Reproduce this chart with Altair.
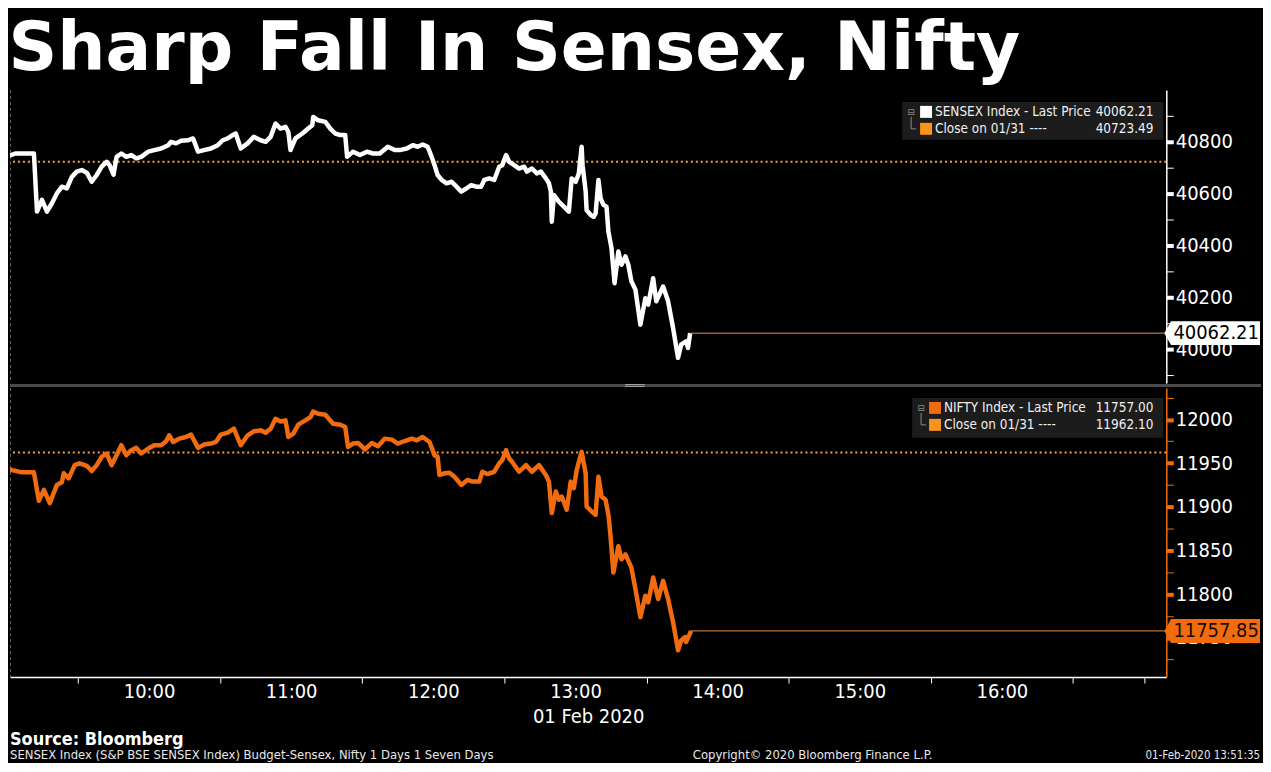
import altair as alt
import pandas as pd

# ------------------------------------------------------------------ data
title_text = "Sharp Fall In Sensex, Nifty"
source_text = "Source: Bloomberg"
footer_left = "SENSEX Index (S&P BSE SENSEX Index) Budget-Sensex, Nifty 1 Days 1 Seven Days"
footer_mid = "Copyright\u00a9 2020 Bloomberg Finance L.P."
footer_right = "01-Feb-2020 13:51:35"
date_label = "01 Feb 2020"

# minutes after 08:58 on 01 Feb 2020
sensex_minutes = [
    0.0, 5.5, 13.4, 14.7, 16.8, 18.9, 21.0, 23.1, 25.2, 27.3,
    29.4, 31.5, 33.6, 35.7, 37.8, 39.9, 42.0, 44.1, 45.3, 47.0,
    48.3, 50.3, 52.4, 54.5, 56.6, 58.7, 61.7, 64.2, 67.1, 70.1,
    71.3, 73.4, 75.5, 78.5, 80.6, 82.7, 85.2, 88.1, 91.0, 93.1,
    95.2, 97.3, 98.6, 100.7, 103.6, 106.2, 109.1, 111.2, 113.3, 115.4,
    117.5, 119.6, 120.8, 121.7, 123.8, 126.7, 129.2, 130.9, 131.3, 133.4,
    136.4, 138.5, 140.6, 142.7, 144.8, 145.6, 148.1, 151.0, 154.0, 156.5,
    159.4, 162.8, 165.7, 167.8, 170.8, 173.3, 175.4, 177.5, 179.6, 181.3,
    182.5, 183.8, 185.5, 187.6, 189.7, 191.8, 193.8, 195.9, 198.0, 200.1,
    202.2, 203.5, 205.6, 207.7, 209.8, 211.1, 212.7, 214.0, 216.1, 218.2,
    220.3, 221.5, 223.6, 225.7, 227.4, 229.5, 230.8, 231.6, 232.0, 232.9,
    235.0, 237.1, 239.2, 240.4, 242.1, 243.4, 244.6, 245.0, 246.3, 246.7,
    248.4, 249.7, 250.5, 251.7, 252.6, 253.8, 255.1, 255.9, 257.2, 258.5,
    260.1, 261.4, 263.1, 264.3, 265.6, 267.3, 269.4, 271.5, 272.7, 274.8,
    276.1, 279.0, 281.1, 283.2, 285.3, 286.6, 288.7, 289.5, 290.4,
]
sensex_values = [
    40736, 40755, 40755, 40531, 40576, 40531, 40563, 40601, 40627, 40620,
    40665, 40685, 40691, 40681, 40646, 40672, 40704, 40723, 40711, 40673,
    40742, 40755, 40742, 40749, 40736, 40742, 40762, 40768, 40774, 40787,
    40800, 40794, 40804, 40806, 40813, 40762, 40768, 40774, 40787, 40806,
    40813, 40826, 40832, 40774, 40794, 40819, 40806, 40800, 40819, 40870,
    40851, 40858, 40838, 40768, 40813, 40832, 40851, 40864, 40896, 40883,
    40877, 40851, 40832, 40826, 40826, 40742, 40762, 40749, 40762, 40755,
    40755, 40781, 40768, 40768, 40774, 40787, 40781, 40790, 40781, 40742,
    40710, 40672, 40653, 40640, 40646, 40627, 40608, 40620, 40633, 40627,
    40627, 40653, 40659, 40653, 40704, 40710, 40749, 40723, 40710, 40697,
    40704, 40685, 40697, 40678, 40685, 40659, 40640, 40608, 40492, 40595,
    40569, 40550, 40531, 40659, 40646, 40678, 40781, 40710, 40608, 40537,
    40518, 40511, 40524, 40653, 40582, 40557, 40550, 40454, 40390, 40255,
    40377, 40326, 40358, 40326, 40262, 40230, 40095, 40197, 40172, 40274,
    40185, 40242, 40185, 40082, 39967, 40018, 40031, 40005, 40062.21,
]

nifty_minutes = [
    0.0, 4.2, 8.4, 13.4, 15.5, 17.6, 20.1, 23.1, 25.2, 26.0,
    28.1, 30.6, 32.7, 35.7, 37.8, 39.9, 42.0, 44.1, 46.2, 48.3,
    50.3, 52.4, 54.5, 56.6, 58.7, 61.7, 64.2, 67.1, 69.2, 70.5,
    72.2, 74.7, 77.6, 79.7, 82.7, 85.2, 88.1, 90.2, 92.3, 95.2,
    97.8, 100.7, 103.6, 106.2, 109.1, 111.2, 113.3, 115.4, 117.5, 119.6,
    120.8, 122.9, 125.0, 128.0, 130.1, 131.3, 133.4, 136.4, 139.7, 142.7,
    144.8, 146.0, 148.1, 150.2, 153.1, 156.1, 158.6, 161.5, 164.5, 167.0,
    169.9, 172.9, 175.0, 177.5, 180.4, 182.5, 183.8, 184.6, 186.7, 188.8,
    190.9, 193.8, 196.4, 198.5, 201.4, 202.7, 204.8, 207.7, 209.8, 211.1,
    212.7, 214.0, 215.2, 218.2, 221.1, 223.6, 226.6, 229.5, 230.8, 232.0,
    233.7, 235.0, 236.2, 238.3, 240.0, 241.3, 242.5, 244.6, 246.3, 246.7,
    248.8, 250.5, 251.7, 253.0, 254.7, 256.0, 256.8, 258.0, 260.1, 261.4,
    263.1, 265.6, 267.3, 269.4, 271.5, 272.7, 274.8, 276.9, 279.0, 281.1,
    283.2, 285.3, 286.6, 288.3, 288.7, 290.8,
]
nifty_values = [
    11945.8, 11942.0, 11939.4, 11939.4, 11906.8, 11919.3, 11904.2, 11925.0, 11928.0, 11938.3,
    11932.6, 11947.7, 11949.7, 11946.9, 11940.9, 11947.7, 11957.2, 11961.0, 11947.7, 11959.1,
    11970.5, 11959.1, 11964.8, 11967.4, 11961.0, 11966.7, 11970.5, 11970.5, 11975.0, 11981.8,
    11974.2, 11978.0, 11979.9, 11982.6, 11967.4, 11971.2, 11972.4, 11974.2, 11982.6, 11984.9,
    11989.4, 11970.5, 11981.8, 11986.4, 11987.5, 11984.9, 11989.4, 12000.8, 11997.7, 11998.9,
    11979.9, 11983.7, 11994.0, 11998.9, 12002.6, 12009.1, 12006.5, 12005.3, 11995.1, 11994.0,
    11991.3, 11968.5, 11972.4, 11973.1, 11965.6, 11973.1, 11969.3, 11978.0, 11976.9, 11972.4,
    11975.3, 11978.0, 11976.1, 11979.9, 11974.2, 11959.1, 11957.2, 11936.4, 11938.3, 11939.0,
    11934.4, 11925.0, 11930.7, 11928.8, 11928.8, 11940.1, 11937.5, 11940.1, 11949.7, 11953.4,
    11964.8, 11955.3, 11951.5, 11940.1, 11947.7, 11940.1, 11947.7, 11936.4, 11928.8, 11892.8,
    11917.4, 11908.0, 11911.7, 11896.6, 11928.8, 11921.2, 11942.0, 11962.9, 11938.3, 11900.3,
    11894.7, 11890.9, 11934.4, 11911.7, 11908.0, 11889.0, 11866.3, 11824.6, 11854.9, 11839.8,
    11845.5, 11830.3, 11805.7, 11773.6, 11798.1, 11790.6, 11819.0, 11794.3, 11815.2, 11794.3,
    11767.8, 11735.6, 11746.9, 11750.8, 11745.1, 11757.85,
]

sensex_legend_names = ["SENSEX Index - Last Price", "Close on 01/31 ----"]
sensex_legend_numbers = ["40062.21", "40723.49"]
nifty_legend_names = ["NIFTY Index - Last Price", "Close on 01/31 ----"]
nifty_legend_numbers = ["11757.00", "11962.10"]

sensex_close = 40723.49
sensex_tag = 40062.21
nifty_close = 11962.10
nifty_tag = 11757.85

# ------------------------------------------------------------------ frames
BASE = pd.Timestamp("2020-02-01 08:58:00")


def frame(minutes, values):
    return pd.DataFrame({"time": BASE + pd.to_timedelta(minutes, unit="m"),
                         "value": values})


sensex_df = frame(sensex_minutes, sensex_values)
nifty_df = frame(nifty_minutes, nifty_values)
sensex_last_df = sensex_df.tail(1).copy()
sensex_last_df["value"] = sensex_tag
nifty_last_df = nifty_df.tail(1).copy()
nifty_last_df["value"] = nifty_tag
one = pd.DataFrame({"k": [0]})

# ------------------------------------------------------------------ style
W = 1160
H_TOP = 294
H_BOT = 290
FONT = "DejaVu Sans Condensed, DejaVu Sans, sans-serif"
WHITE = "#ffffff"
ORANGE = "#f26c0f"
AMBER = "#f7941d"
DOT = "#f5a340"
LASTLINE = "#f08a3c"
BOX = "#1c1c1c"
TAG = "M-1,0L-0.86,-0.25L1,-0.25L1,0.25L-0.86,0.25Z"


def dt(h, m, s=0):
    return alt.DateTime(year=2020, month=2, date=1, hours=h, minutes=m, seconds=s)


x_scale = alt.Scale(domain=[dt(9, 1, 18), dt(17, 9, 24)])
tick_times = [dt(h, m) for h in range(9, 18) for m in (0, 30)
              if (9, 30) <= (h, m) <= (17, 0)]

x_axis_bottom = alt.Axis(
    values=tick_times,
    labelExpr="minutes(datum.value) == 0 && hours(datum.value) < 17 ? timeFormat(datum.value, '%H:%M') : ''",
    tickOpacity={"condition": {"test": "minutes(datum.value) == 30 || hours(datum.value) == 17", "value": 1}, "value": 0},
    tickSize=6, tickColor=WHITE, domainColor=WHITE, domainWidth=1.5,
    labelColor=WHITE, labelFont=FONT, labelFontSize=20, labelPadding=-2,
    labelOverlap=False, labelFlush=False,
    title=date_label, titleFont=FONT, titleFontSize=20, titleFontWeight="normal",
    titleColor=WHITE, titlePadding=6, grid=False,
)


def y_axis(values, major, color):
    return alt.Axis(
        orient="right", values=values, format="d",
        labelExpr=f"datum.value % {major} == 0 ? datum.label : ''",
        tickSize=7,
        tickWidth={"condition": {"test": f"datum.value % {major} == 0", "value": 4}, "value": 1},
        tickColor=color, domainColor=color, domainWidth=1.5,
        labelColor=WHITE, labelFont=FONT, labelFontSize=20, labelPadding=2,
        labelOverlap=False, grid=False, title=None,
    )


def legend(names, numbers, colors, box, rows_y, sq_x, text_x, num_x, icon_x):
    layers = [alt.Chart(one).mark_rect(color=BOX).encode(
        x=alt.value(box[0]), x2=alt.value(box[1]), y=alt.value(box[2]), y2=alt.value(box[3]))]
    layers.append(alt.Chart(one).mark_text(text="\u229f", font="DejaVu Sans", fontSize=9,
                                           color="#8a8a8a", align="center", baseline="middle")
                  .encode(x=alt.value(icon_x), y=alt.value(rows_y[0])))
    layers.append(alt.Chart(one).mark_rule(color="#8a8a8a", strokeWidth=1).encode(
        x=alt.value(icon_x), y=alt.value(rows_y[0] + 5), y2=alt.value(rows_y[1])))
    layers.append(alt.Chart(one).mark_rule(color="#8a8a8a", strokeWidth=1).encode(
        x=alt.value(icon_x), x2=alt.value(icon_x + 5), y=alt.value(rows_y[1])))
    for name, num, col, ry in zip(names, numbers, colors, rows_y):
        layers.append(alt.Chart(one).mark_rect(color=col).encode(
            x=alt.value(sq_x), x2=alt.value(sq_x + 12), y=alt.value(ry - 6), y2=alt.value(ry + 6)))
        layers.append(alt.Chart(one).mark_text(text=name, font=FONT, fontSize=13.5, color="#f0f0f0",
                                               align="left", baseline="middle")
                      .encode(x=alt.value(text_x), y=alt.value(ry)))
        layers.append(alt.Chart(one).mark_text(text=num, font=FONT, fontSize=13.5, color="#f0f0f0",
                                               align="right", baseline="middle")
                      .encode(x=alt.value(num_x), y=alt.value(ry)))
    return layers


def panel(df, last_df, close, tag_value, domain, values, major, line_color, axis_color,
          tag_fill, tag_text_color, legend_layers, height, extra_layers, x_axis):
    X = alt.X("time:T", scale=x_scale, axis=x_axis)
    Y = alt.Y("value:Q", scale=alt.Scale(domain=domain, nice=False, zero=False),
              axis=y_axis(values, major, axis_color))
    left_edge = alt.Chart(one).mark_rule(color="#6a6a6a", strokeDash=[3, 3], strokeWidth=1).encode(
        x=alt.value(0.5), y=alt.value(0), y2=alt.value(height))
    close_rule = alt.Chart(pd.DataFrame({"value": [close]})).mark_rule(
        color=DOT, strokeDash=[2, 3], strokeWidth=2).encode(y=Y)
    line = alt.Chart(df).mark_line(color=line_color, strokeWidth=4.5, strokeJoin="round",
                                   clip=True).encode(x=X, y=Y)
    last_rule = alt.Chart(last_df).mark_rule(color=LASTLINE, strokeWidth=1).encode(
        x=X, x2=alt.value(W), y=Y)
    tag_df = pd.DataFrame({"value": [tag_value], "label": [f"{tag_value:.2f}"]})
    tag = alt.Chart(tag_df).mark_point(shape=TAG, filled=True, size=96 * 96, color=tag_fill,
                                       opacity=1, strokeWidth=0).encode(x=alt.value(1206), y=Y)
    tag_txt = alt.Chart(tag_df).mark_text(font=FONT, fontSize=20, color=tag_text_color,
                                          align="center", baseline="middle").encode(
        x=alt.value(1210), y=Y, text="label:N")
    layers = [left_edge, close_rule] + legend_layers + [line, last_rule, tag, tag_txt] + extra_layers
    return alt.layer(*layers).properties(width=W, height=height)


# separator between the panels (drawn in the top panel, below its plot)
sep = [
    alt.Chart(one).mark_rule(color="#4a4a4a", strokeWidth=3).encode(
        x=alt.value(0), x2=alt.value(1255), y=alt.value(H_TOP + 2.5)),
    alt.Chart(one).mark_rule(color="#a0a0a0", strokeWidth=1).encode(
        x=alt.value(617), x2=alt.value(637), y=alt.value(H_TOP + 1.5)),
    alt.Chart(one).mark_rule(color="#a0a0a0", strokeWidth=1).encode(
        x=alt.value(617), x2=alt.value(637), y=alt.value(H_TOP + 3.5)),
]

footer = [
    alt.Chart(one).mark_text(text=source_text, font=FONT, fontSize=18, fontWeight="bold",
                             color=WHITE, align="left", baseline="alphabetic").encode(
        x=alt.value(0), y=alt.value(358)),
    alt.Chart(one).mark_text(text=footer_left, font=FONT, fontSize=13, color="#e8e8e8",
                             align="left", baseline="alphabetic").encode(
        x=alt.value(0), y=alt.value(372)),
    alt.Chart(one).mark_text(text=footer_mid, font=FONT, fontSize=13, color="#e8e8e8",
                             align="left", baseline="alphabetic").encode(
        x=alt.value(685), y=alt.value(372)),
    alt.Chart(one).mark_text(text=footer_right, font=FONT, fontSize=11.5, color="#e8e8e8",
                             align="right", baseline="alphabetic").encode(
        x=alt.value(1254), y=alt.value(372)),
]

top = panel(
    sensex_df, sensex_last_df, sensex_close, sensex_tag, [39870, 41000],
    list(range(39900, 41000, 100)), 200, WHITE, WHITE, WHITE, "#000000",
    legend(sensex_legend_names, sensex_legend_numbers, [WHITE, AMBER],
           (895, 1157, 12, 50), (22, 39), 913, 928, 1147, 904),
    H_TOP, sep, None,
)

bottom = panel(
    nifty_df, nifty_last_df, nifty_close, nifty_tag, [11705, 12036],
    list(range(11725, 12050, 25)), 50, ORANGE, ORANGE, ORANGE, "#1a0800",
    legend(nifty_legend_names, nifty_legend_numbers, [ORANGE, AMBER],
           (905, 1157, 10, 50), (20, 37), 922, 937, 1147, 914),
    H_BOT, footer, x_axis_bottom,
)

chart = alt.vconcat(top, bottom, spacing=5, bounds="flush").properties(
    padding={"top": 6, "left": 0, "right": 0, "bottom": 0},
    title=alt.TitleParams(text=title_text, anchor="start", font="DejaVu Sans", fontSize=68,
                          fontWeight="bold", color=WHITE, dy=8, offset=14),
).configure(background="black").configure_view(strokeWidth=0)

chart.save("out.html", embed_options={"renderer": "svg", "actions": False})
